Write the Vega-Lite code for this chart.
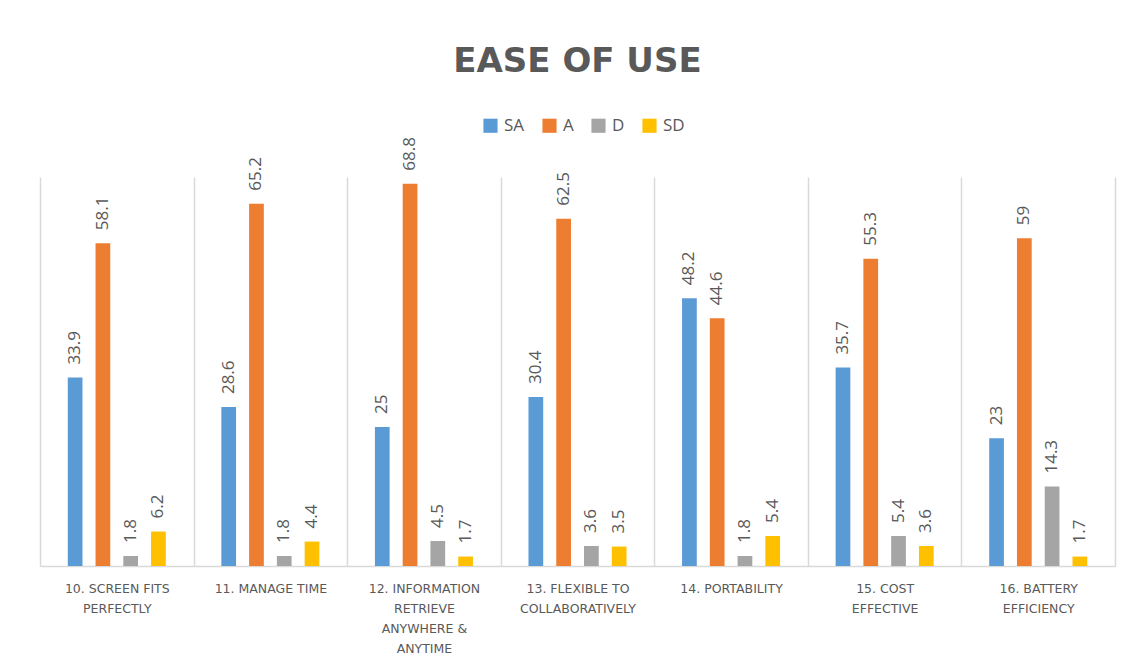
{
  "$schema": "https://vega.github.io/schema/vega-lite/v6.json",
  "width": 1075,
  "height": 389,
  "autosize": {"type": "none"},
  "padding": {"left": 40, "top": 177, "right": 16, "bottom": 100},
  "background": "white",
  "config": {"view": {"stroke": null}},
  "title": {
    "text": "EASE OF USE",
    "font": "DejaVu Sans",
    "fontSize": 34,
    "fontWeight": "bold",
    "color": "#595959",
    "anchor": "middle",
    "offset": 38
  },
  "data": {
    "values": [
      {"item": "10. Screen fits|perfectly", "level": "SA", "value": 33.9},
      {"item": "10. Screen fits|perfectly", "level": "A", "value": 58.1},
      {"item": "10. Screen fits|perfectly", "level": "D", "value": 1.8},
      {"item": "10. Screen fits|perfectly", "level": "SD", "value": 6.2},
      {"item": "11. Manage time", "level": "SA", "value": 28.6},
      {"item": "11. Manage time", "level": "A", "value": 65.2},
      {"item": "11. Manage time", "level": "D", "value": 1.8},
      {"item": "11. Manage time", "level": "SD", "value": 4.4},
      {"item": "12. Information|retrieve|anywhere &|anytime", "level": "SA", "value": 25},
      {"item": "12. Information|retrieve|anywhere &|anytime", "level": "A", "value": 68.8},
      {"item": "12. Information|retrieve|anywhere &|anytime", "level": "D", "value": 4.5},
      {"item": "12. Information|retrieve|anywhere &|anytime", "level": "SD", "value": 1.7},
      {"item": "13. Flexible to|collaboratively", "level": "SA", "value": 30.4},
      {"item": "13. Flexible to|collaboratively", "level": "A", "value": 62.5},
      {"item": "13. Flexible to|collaboratively", "level": "D", "value": 3.6},
      {"item": "13. Flexible to|collaboratively", "level": "SD", "value": 3.5},
      {"item": "14. Portability", "level": "SA", "value": 48.2},
      {"item": "14. Portability", "level": "A", "value": 44.6},
      {"item": "14. Portability", "level": "D", "value": 1.8},
      {"item": "14. Portability", "level": "SD", "value": 5.4},
      {"item": "15. Cost|effective", "level": "SA", "value": 35.7},
      {"item": "15. Cost|effective", "level": "A", "value": 55.3},
      {"item": "15. Cost|effective", "level": "D", "value": 5.4},
      {"item": "15. Cost|effective", "level": "SD", "value": 3.6},
      {"item": "16. Battery|efficiency", "level": "SA", "value": 23},
      {"item": "16. Battery|efficiency", "level": "A", "value": 59},
      {"item": "16. Battery|efficiency", "level": "D", "value": 14.3},
      {"item": "16. Battery|efficiency", "level": "SD", "value": 1.7}
    ]
  },
  "encoding": {
    "x": {
      "field": "item",
      "type": "nominal",
      "sort": null,
      "scale": {"paddingInner": 0, "paddingOuter": 0},
      "axis": {
        "title": null,
        "labelAngle": 0,
        "labelExpr": "split(upper(datum.label), '|')",
        "labelFont": "DejaVu Sans",
        "labelFontSize": 12.5,
        "labelColor": "#595959",
        "labelPadding": 16,
        "labelLineHeight": 20,
        "labelOverlap": false,
        "labelLimit": 300,
        "ticks": false,
        "tickBand": "extent",
        "grid": true,
        "gridColor": "#D9D9D9",
        "gridWidth": 1.5,
        "domainColor": "#D9D9D9",
        "domainWidth": 1.5
      }
    },
    "xOffset": {
      "field": "level",
      "type": "nominal",
      "sort": ["SA", "A", "D", "SD"],
      "scale": {"paddingInner": 0.47, "paddingOuter": 1.13}
    },
    "y": {
      "field": "value",
      "type": "quantitative",
      "scale": {"domain": [0, 70]},
      "axis": null
    }
  },
  "layer": [
    {
      "mark": {"type": "bar"},
      "encoding": {
        "color": {
          "field": "level",
          "type": "nominal",
          "sort": ["SA", "A", "D", "SD"],
          "scale": {
            "domain": ["SA", "A", "D", "SD"],
            "range": ["#5B9BD5", "#ED7D31", "#A5A5A5", "#FFC000"]
          },
          "legend": {
            "title": null,
            "orient": "none",
            "direction": "horizontal",
            "legendX": 442,
            "legendY": -60,
            "symbolType": "square",
            "symbolSize": 200,
            "symbolStrokeWidth": 0,
            "labelFont": "Open Sans",
            "labelFontSize": 17,
            "labelColor": "#595959",
            "labelOffset": 5,
            "columnPadding": 16
          }
        }
      }
    },
    {
      "mark": {
        "type": "text",
        "angle": 270,
        "align": "left",
        "baseline": "middle",
        "dx": 13,
        "font": "Open Sans",
        "fontSize": 17,
        "color": "#595959"
      },
      "encoding": {
        "text": {"field": "value", "type": "quantitative"}
      }
    }
  ]
}
